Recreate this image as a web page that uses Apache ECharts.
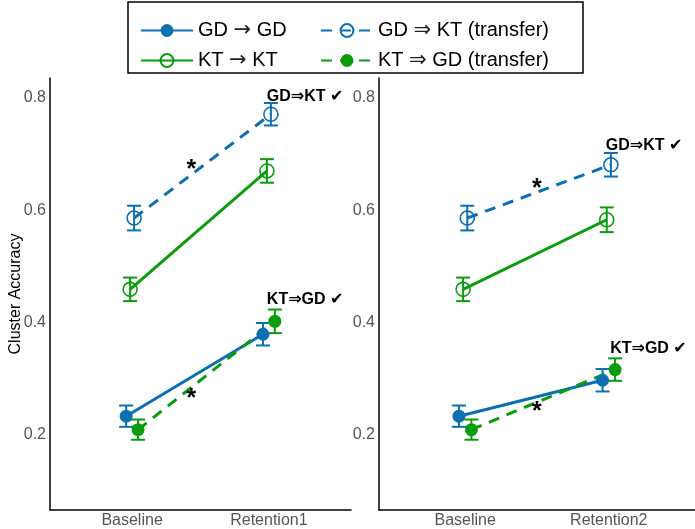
<!DOCTYPE html>
<html>
<head>
<meta charset="utf-8">
<script src="https://cdn.jsdelivr.net/npm/echarts@6/dist/echarts.min.js"></script>
<style>
  html, body { margin: 0; padding: 0; background: #ffffff; }
  #chart { width: 695px; height: 529px; }
</style>
</head>
<body>
<div id="chart"></div>
<script>
// Cluster accuracy before and after training, two retention sessions
const phasesA = ['Baseline', 'Retention1'];
const phasesB = ['Baseline', 'Retention2'];
const seriesNames = ['GD → GD', 'KT → KT', 'GD ⇒ KT (transfer)', 'KT ⇒ GD (transfer)'];
const yTicks = [0.2, 0.4, 0.6, 0.8];

// Panel A: Baseline vs Retention1 (mean and error)
const gdGdA = [0.233, 0.379];
const gdGdAErr = [0.019, 0.020];
const ktKtA = [0.459, 0.670];
const ktKtAErr = [0.021, 0.021];
const gdKtA = [0.586, 0.771];
const gdKtAErr = [0.022, 0.020];
const ktGdA = [0.209, 0.402];
const ktGdAErr = [0.018, 0.021];

// Panel B: Baseline vs Retention2 (mean and error)
const gdGdB = [0.233, 0.297];
const gdGdBErr = [0.019, 0.020];
const ktKtB = [0.459, 0.583];
const ktKtBErr = [0.021, 0.022];
const gdKtB = [0.586, 0.681];
const gdKtBErr = [0.022, 0.021];
const ktGdB = [0.209, 0.316];
const ktGdBErr = [0.018, 0.020];

// Significance annotations per panel
const notesA = ['GD⇒KT ✔', 'KT⇒GD ✔'];
const notesB = ['GD⇒KT ✔', 'KT⇒GD ✔'];

const BLUE = '#0a70b2';
const GREEN = '#0a9c0a';
const FONT = '"Liberation Sans", "DejaVu Sans", Arial, sans-serif';

// style of each group: colour, dashed line, filled marker
const groupStyles = [
  { color: BLUE, dashed: false, filled: true },
  { color: GREEN, dashed: false, filled: false },
  { color: BLUE, dashed: true, filled: false },
  { color: GREEN, dashed: true, filled: true }
];
const DODGE = 0.029;

const panels = [
  { phases: phasesA, means: [gdGdA, ktKtA, gdKtA, ktGdA], errs: [gdGdAErr, ktKtAErr, gdKtAErr, ktGdAErr] },
  { phases: phasesB, means: [gdGdB, ktKtB, gdKtB, ktGdB], errs: [gdGdBErr, ktKtBErr, gdKtBErr, ktGdBErr] }
];

const series = [];

panels.forEach((panel, p) => {
  panel.means.forEach((vals, g) => {
    const st = groupStyles[g];
    const off = (g - 1.5) * DODGE;
    const errs = panel.errs[g];
    // error bars with caps
    series.push({
      type: 'custom',
      name: seriesNames[g] + ' error',
      xAxisIndex: p, yAxisIndex: p,
      silent: true, z: 3,
      data: vals.map((v, i) => [i + 1 + off, v - errs[i], v + errs[i]]),
      encode: { x: 0, y: [1, 2] },
      renderItem: (params, api) => {
        const x = api.value(0);
        const lo = api.coord([x, api.value(1)]);
        const hi = api.coord([x, api.value(2)]);
        const hw = 7;
        const s = { stroke: st.color, lineWidth: 2 };
        return {
          type: 'group',
          children: [
            { type: 'line', shape: { x1: lo[0], y1: lo[1], x2: hi[0], y2: hi[1] }, style: s },
            { type: 'line', shape: { x1: lo[0] - hw, y1: lo[1], x2: lo[0] + hw, y2: lo[1] }, style: s },
            { type: 'line', shape: { x1: hi[0] - hw, y1: hi[1], x2: hi[0] + hw, y2: hi[1] }, style: s }
          ]
        };
      }
    });
    // mean line with markers
    series.push({
      type: 'line',
      name: seriesNames[g],
      xAxisIndex: p, yAxisIndex: p,
      z: 4,
      data: vals.map((v, i) => [i + 1 + off, v]),
      symbol: 'circle',
      symbolSize: st.filled ? 13 : 14,
      itemStyle: st.filled
        ? { color: st.color, borderWidth: 0 }
        : { color: 'rgba(255,255,255,0)', borderColor: st.color, borderWidth: 1.6 },
      lineStyle: { color: st.color, width: 3, type: st.dashed ? [11, 8] : 'solid' },
      emphasis: { disabled: true }
    });
  });
});

// text annotations placed in data coordinates
const noteLabel = (text, size) => ({
  show: true, position: 'inside', formatter: text,
  fontFamily: FONT, fontWeight: 'bold', fontSize: size, color: '#000',
  textBorderWidth: 0
});
const noteItem = { color: 'rgba(0,0,0,0)', opacity: 1 };
series.push({
  type: 'scatter', xAxisIndex: 0, yAxisIndex: 0, silent: true, z: 6,
  symbolSize: 1, itemStyle: noteItem,
  data: [
    { value: [2.265, 0.802], label: noteLabel(notesA[0], 16) },
    { value: [2.265, 0.441], label: noteLabel(notesA[1], 16) },
    { value: [1.434, 0.672], label: noteLabel('*', 25) },
    { value: [1.434, 0.264], label: noteLabel('*', 25) }
  ]
});
series.push({
  type: 'scatter', xAxisIndex: 1, yAxisIndex: 1, silent: true, z: 6,
  symbolSize: 1, itemStyle: noteItem,
  data: [
    { value: [2.246, 0.715], label: noteLabel(notesB[0], 16) },
    { value: [2.276, 0.354], label: noteLabel(notesB[1], 16) },
    { value: [1.499, 0.638], label: noteLabel('*', 25) },
    { value: [1.499, 0.240], label: noteLabel('*', 25) }
  ]
});

const axisLine = { show: true, lineStyle: { color: '#000', width: 1.5 } };

function xAxis(grid, phases) {
  return {
    type: 'value', gridIndex: grid, min: 0.4, max: 2.6,
    axisLine: axisLine,
    axisTick: { show: false },
    splitLine: { show: false },
    axisLabel: {
      customValues: [1, 2],
      formatter: v => phases[Math.round(v) - 1],
      color: '#555', fontSize: 16, fontFamily: FONT, margin: 3
    }
  };
}
function yAxis(grid, withName) {
  return {
    type: 'value', gridIndex: grid, min: 0.0658, max: 0.8356,
    axisLine: axisLine,
    axisTick: { show: false },
    splitLine: { show: false },
    axisLabel: {
      customValues: yTicks,
      formatter: v => v.toFixed(1),
      color: '#555', fontSize: 16, fontFamily: FONT, margin: 4
    },
    name: withName ? 'Cluster Accuracy' : '',
    nameLocation: 'middle', nameGap: 26, nameRotate: 90,
    nameMoveOverlap: false,
    nameTextStyle: { color: '#000', fontSize: 16, fontFamily: FONT }
  };
}

// arrows drawn in DejaVu Sans for a long, centred glyph
const legendFormatter = name => name.replace(/([→⇒])/, '{arr|$1}');
const legendCommon = {
  orient: 'vertical', top: 20, padding: 0,
  itemWidth: 52, itemHeight: 16, itemGap: 9,
  selectedMode: false,
  formatter: legendFormatter,
  textStyle: {
    fontSize: 20, lineHeight: 20, color: '#000', fontFamily: FONT,
    rich: { arr: { fontFamily: '"DejaVu Sans"', fontSize: 21, lineHeight: 20, color: '#222' } }
  }
};

const option = {
  animation: false,
  backgroundColor: '#ffffff',
  grid: [
    { left: 50, top: 78, width: 301, bottom: 18 },
    { left: 379, top: 78, width: 319, bottom: 18 }
  ],
  xAxis: [xAxis(0, phasesA), xAxis(1, phasesB)],
  yAxis: [yAxis(0, true), yAxis(1, false)],
  legend: [
    Object.assign({ left: 140, data: [seriesNames[0], seriesNames[1]] }, legendCommon),
    Object.assign({ left: 320, data: [seriesNames[2], seriesNames[3]] }, legendCommon)
  ],
  graphic: [
    { type: 'rect', shape: { x: 128, y: 2, width: 455, height: 71 },
      style: { fill: 'none', stroke: '#000', lineWidth: 1.5 }, silent: true }
  ],
  series: series
};

const chart = echarts.init(document.getElementById('chart'), null, { renderer: 'canvas' });
chart.setOption(option);
</script>
</body>
</html>
